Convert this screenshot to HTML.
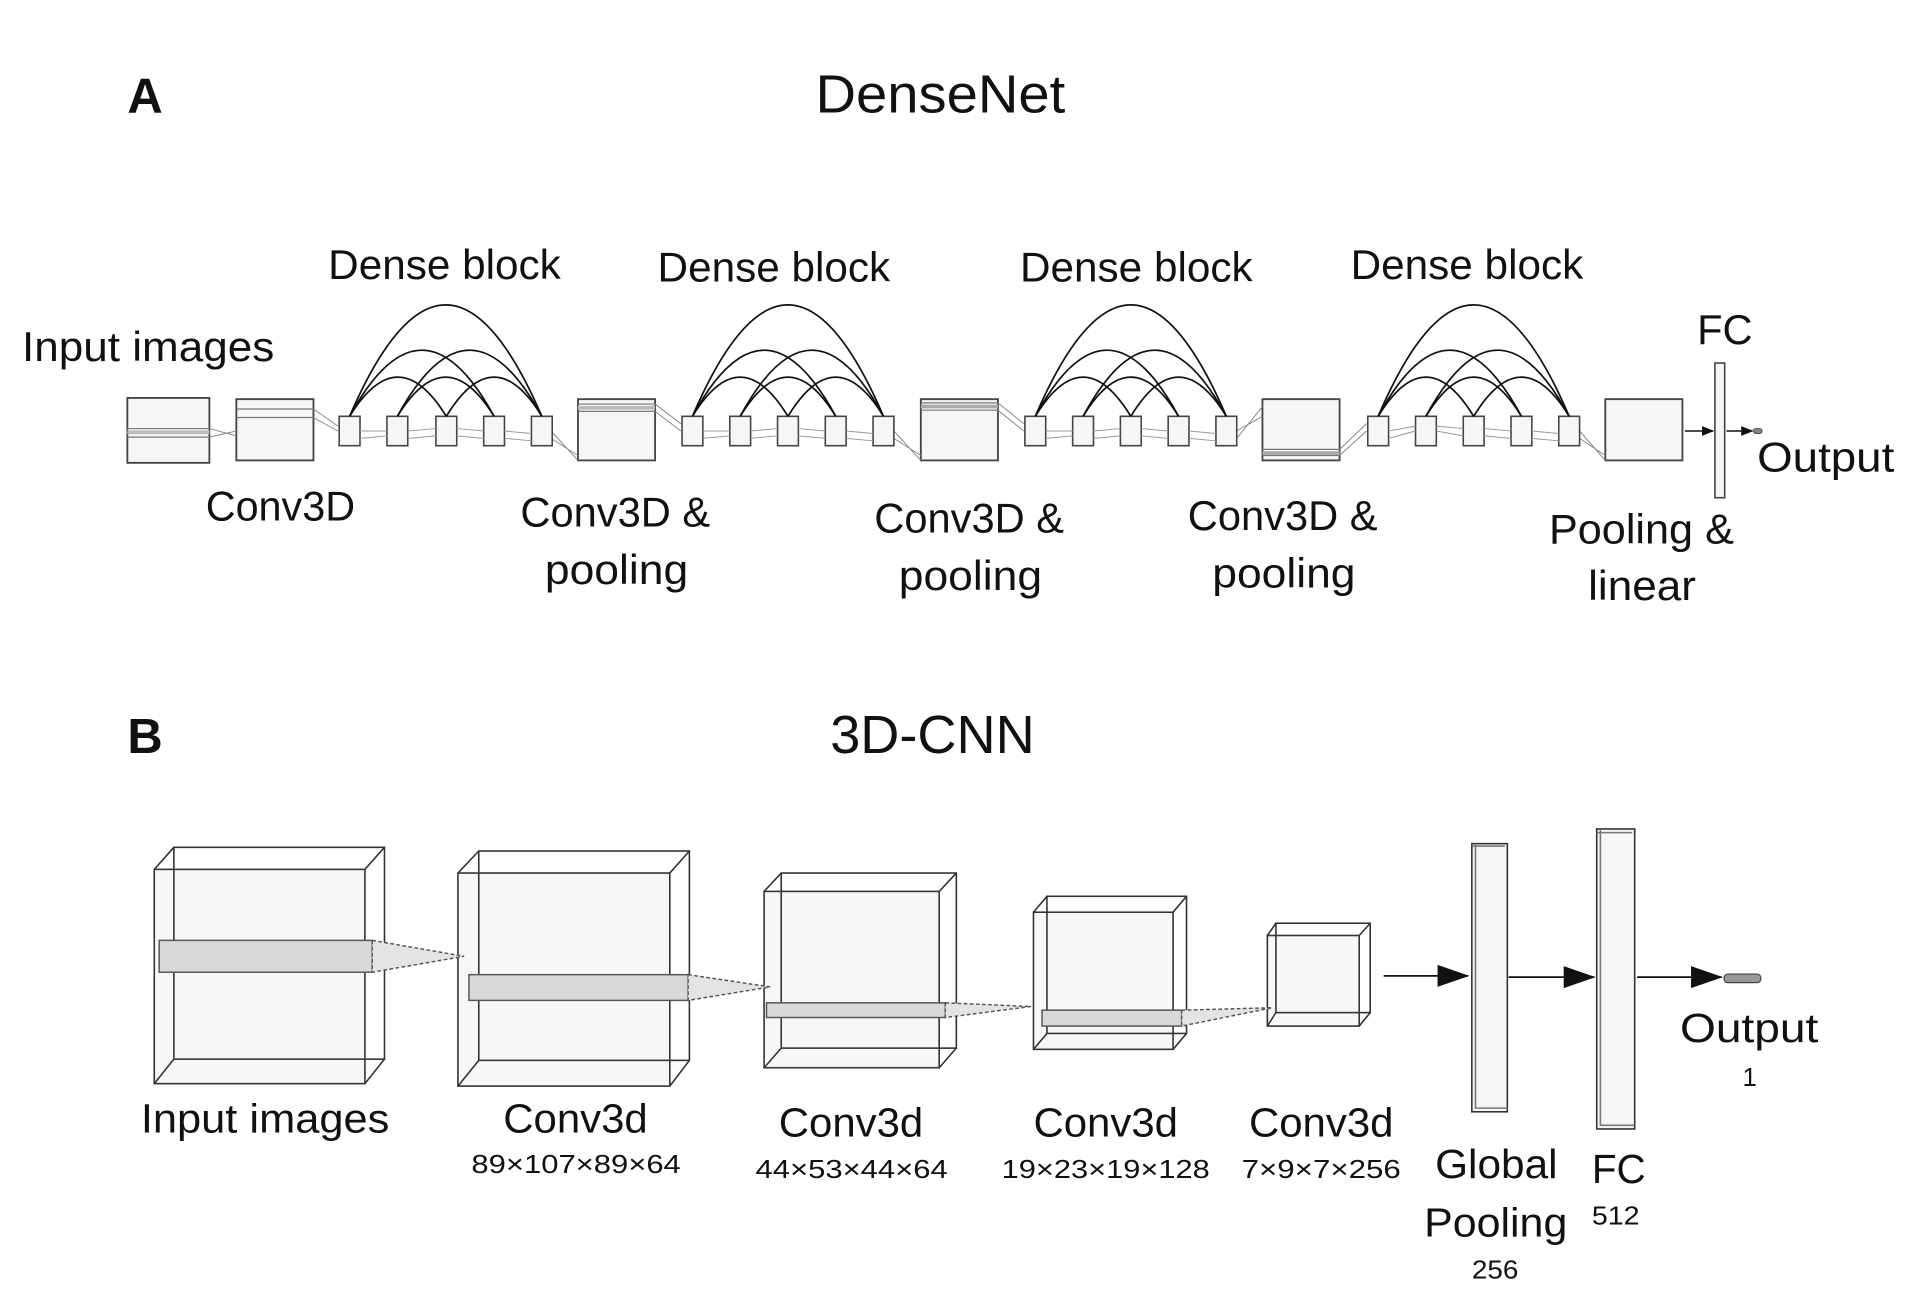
<!DOCTYPE html>
<html><head><meta charset="utf-8"><style>
html,body{margin:0;padding:0;background:#fff;}
svg{display:block;}
text{font-family:"Liberation Sans",sans-serif;fill:#111;}
</style></head><body>
<svg width="1920" height="1312" viewBox="0 0 1568 1071.5" preserveAspectRatio="none" xmlns="http://www.w3.org/2000/svg">
<defs>
<marker id="ah" markerWidth="10" markerHeight="8" refX="9" refY="4" orient="auto" markerUnits="userSpaceOnUse"><path d="M0,0 L10,4 L0,8 z" fill="#111"/></marker>
<marker id="ahb" markerWidth="26" markerHeight="18" refX="25" refY="9" orient="auto" markerUnits="userSpaceOnUse"><path d="M0,0 L26,9 L0,18 z" fill="#111"/></marker>
</defs>

<text x="104" y="92" font-size="40" font-weight="bold">A</text>
<text x="666" y="92" font-size="44" textLength="204" lengthAdjust="spacingAndGlyphs">DenseNet</text>
<text x="104" y="615" font-size="40" font-weight="bold">B</text>
<text x="678" y="615" font-size="44" textLength="167" lengthAdjust="spacingAndGlyphs">3D-CNN</text>

<g font-size="34">
<text x="268" y="228" textLength="190" lengthAdjust="spacingAndGlyphs">Dense block</text>
<text x="537" y="230" textLength="190" lengthAdjust="spacingAndGlyphs">Dense block</text>
<text x="833" y="230" textLength="190" lengthAdjust="spacingAndGlyphs">Dense block</text>
<text x="1103" y="228" textLength="190" lengthAdjust="spacingAndGlyphs">Dense block</text>
<text x="18" y="295" textLength="206" lengthAdjust="spacingAndGlyphs">Input images</text>
<text x="168" y="425" textLength="122" lengthAdjust="spacingAndGlyphs">Conv3D</text>
<text x="425" y="430" textLength="155" lengthAdjust="spacingAndGlyphs">Conv3D &amp;</text>
<text x="445" y="477" textLength="117" lengthAdjust="spacingAndGlyphs">pooling</text>
<text x="714" y="435" textLength="155" lengthAdjust="spacingAndGlyphs">Conv3D &amp;</text>
<text x="734" y="482" textLength="117" lengthAdjust="spacingAndGlyphs">pooling</text>
<text x="970" y="433" textLength="155" lengthAdjust="spacingAndGlyphs">Conv3D &amp;</text>
<text x="990" y="480" textLength="117" lengthAdjust="spacingAndGlyphs">pooling</text>
<text x="1265" y="444" textLength="151" lengthAdjust="spacingAndGlyphs">Pooling &amp;</text>
<text x="1297" y="490" textLength="88" lengthAdjust="spacingAndGlyphs">linear</text>
<text x="1386" y="281">FC</text>
<text x="1435" y="385" textLength="112" lengthAdjust="spacingAndGlyphs">Output</text>
</g>

<g stroke="#444" stroke-width="1.5" fill="#f6f6f6">
<rect x="104" y="325" width="67" height="53"/>
<rect x="193" y="326" width="63" height="50"/>
<rect x="472" y="326" width="63" height="50"/>
<rect x="752" y="326" width="63" height="50"/>
<rect x="1031" y="326" width="63" height="50"/>
<rect x="1311" y="326" width="63" height="50"/>
</g>
<g stroke="#777" stroke-width="1">
<line x1="104" y1="350" x2="171" y2="350"/><line x1="104" y1="357" x2="171" y2="357"/><line x1="104" y1="353" x2="171" y2="353" stroke="#bbb" stroke-width="3"/>
<line x1="193" y1="334" x2="256" y2="334"/><line x1="193" y1="341" x2="256" y2="341"/>
<line x1="472" y1="330" x2="535" y2="330"/><line x1="472" y1="336" x2="535" y2="336"/><line x1="472" y1="333" x2="535" y2="333" stroke="#bbb" stroke-width="3"/>
<line x1="752" y1="329" x2="815" y2="329"/><line x1="752" y1="335" x2="815" y2="335"/><line x1="752" y1="332" x2="815" y2="332" stroke="#aaa" stroke-width="3"/>
<line x1="1031" y1="367" x2="1094" y2="367"/><line x1="1031" y1="372" x2="1094" y2="372"/><line x1="1031" y1="370" x2="1094" y2="370" stroke="#aaa" stroke-width="3"/>
</g>
<g stroke="#888" stroke-width="0.8" fill="none">
<path d="M171,350 L193,356 M171,357 L193,352"/>
<path d="M256,334 L276,348 M256,341 L276,352"/>
<path d="M450,352 L472,376 M450,358 L472,372"/>
<path d="M535,330 L556,346 M535,336 L556,352"/>
<path d="M730,352 L752,376 M730,358 L752,372"/>
<path d="M815,329 L836,346 M815,335 L836,352"/>
<path d="M1010,352 L1031,340 M1010,358 L1031,332"/>
<path d="M1094,367 L1116,346 M1094,372 L1116,352"/>
<path d="M1290,352 L1311,376 M1290,358 L1311,372"/>
</g>
<g stroke="#444" stroke-width="1.3" fill="#f6f6f6">
<rect x="277" y="340" width="17" height="24"/><rect x="316" y="340" width="17" height="24"/><rect x="356" y="340" width="17" height="24"/><rect x="395" y="340" width="17" height="24"/><rect x="434" y="340" width="17" height="24"/>
<rect x="557" y="340" width="17" height="24"/><rect x="596" y="340" width="17" height="24"/><rect x="635" y="340" width="17" height="24"/><rect x="674" y="340" width="17" height="24"/><rect x="713" y="340" width="17" height="24"/>
<rect x="837" y="340" width="17" height="24"/><rect x="876" y="340" width="17" height="24"/><rect x="915" y="340" width="17" height="24"/><rect x="954" y="340" width="17" height="24"/><rect x="993" y="340" width="17" height="24"/>
<rect x="1117" y="340" width="17" height="24"/><rect x="1156" y="340" width="17" height="24"/><rect x="1195" y="340" width="17" height="24"/><rect x="1234" y="340" width="17" height="24"/><rect x="1273" y="340" width="17" height="24"/>
</g>
<g stroke="#999" stroke-width="0.8">
<path d="M294,352 L316,352 M294,358 L316,356 M333,352 L356,350 M333,358 L356,356 M373,350 L395,352 M373,356 L395,358 M412,352 L434,354 M412,358 L434,360"/>
<path d="M574,352 L596,352 M574,358 L596,356 M613,352 L635,350 M613,358 L635,356 M652,350 L674,352 M652,356 L674,358 M691,352 L713,354 M691,358 L713,360"/>
<path d="M854,352 L876,352 M854,358 L876,356 M893,352 L915,350 M893,358 L915,356 M932,350 L954,352 M932,356 L954,358 M971,352 L993,354 M971,358 L993,360"/>
<path d="M1134,352 L1156,348 M1134,358 L1156,352 M1173,348 L1195,350 M1173,352 L1195,356 M1212,350 L1234,352 M1212,356 L1234,358 M1251,352 L1273,354 M1251,358 L1273,360"/>
</g>
<g stroke="#111" stroke-width="1.4" fill="none">
<path d="M285.5,340 Q325,276 364.5,340 M324.5,340 Q364,276 403.5,340 M364.5,340 Q403.5,276 442.5,340"/>
<path d="M285.5,340 Q344.5,232 403.5,340 M324.5,340 Q383.5,232 442.5,340"/>
<path d="M285.5,340 Q364,158 442.5,340"/>
<path d="M565.5,340 Q604.5,276 643.5,340 M604.5,340 Q643.5,276 682.5,340 M643.5,340 Q682.5,276 721.5,340"/>
<path d="M565.5,340 Q624,232 682.5,340 M604.5,340 Q663,232 721.5,340"/>
<path d="M565.5,340 Q643.5,158 721.5,340"/>
<path d="M845.5,340 Q884.5,276 923.5,340 M884.5,340 Q923.5,276 962.5,340 M923.5,340 Q962.5,276 1001.5,340"/>
<path d="M845.5,340 Q904,232 962.5,340 M884.5,340 Q943,232 1001.5,340"/>
<path d="M845.5,340 Q923.5,158 1001.5,340"/>
<path d="M1125.5,340 Q1164.5,276 1203.5,340 M1164.5,340 Q1203.5,276 1242.5,340 M1203.5,340 Q1242.5,276 1281.5,340"/>
<path d="M1125.5,340 Q1184,232 1242.5,340 M1164.5,340 Q1223,232 1281.5,340"/>
<path d="M1125.5,340 Q1203.5,158 1281.5,340"/>
</g>
<rect x="1400.5" y="296.5" width="8" height="110" fill="#f6f6f6" stroke="#444" stroke-width="1.3"/>
<line x1="1376" y1="352" x2="1399" y2="352" stroke="#111" stroke-width="1.2" marker-end="url(#ah)"/>
<line x1="1410" y1="352" x2="1431" y2="352" stroke="#111" stroke-width="1.2" marker-end="url(#ah)"/>
<rect x="1432" y="350" width="7" height="4" rx="2" fill="#888" stroke="#444" stroke-width="0.8"/>

<g stroke="#333" stroke-width="1.3" fill="none">
<rect x="126" y="710" width="172" height="175" fill="#f7f7f7"/>
<rect x="142" y="692" width="172" height="173"/>
<path d="M126,710 L142,692 M298,710 L314,692 M126,885 L142,865 M298,885 L314,865"/>
<rect x="374" y="713" width="173" height="174" fill="#f7f7f7"/>
<rect x="391" y="695" width="172" height="171"/>
<path d="M374,713 L391,695 M547,713 L563,695 M374,887 L391,866 M547,887 L563,866"/>
<rect x="624" y="728" width="143" height="144" fill="#f7f7f7"/>
<rect x="638" y="713" width="143" height="143"/>
<path d="M624,728 L638,713 M767,728 L781,713 M624,872 L638,856 M767,872 L781,856"/>
<rect x="844" y="745" width="114" height="112" fill="#f7f7f7"/>
<rect x="855" y="732" width="114" height="112"/>
<path d="M844,745 L855,732 M958,745 L969,732 M844,857 L855,844 M958,857 L969,844"/>
<rect x="1035" y="764" width="75" height="74" fill="#f7f7f7"/>
<rect x="1042" y="754" width="77" height="73"/>
<path d="M1035,764 L1042,754 M1110,764 L1119,754 M1035,838 L1042,827 M1110,838 L1119,827"/>
</g>
<g stroke="#555" stroke-width="1.2">
<rect x="130" y="768" width="174" height="26" fill="#d9d9d9"/>
<path d="M304,768 L379,781 L304,794 z" fill="#e4e4e4" stroke-dasharray="3,2"/>
<rect x="383" y="796" width="179" height="21" fill="#d9d9d9"/>
<path d="M562,796 L629,806 L562,817 z" fill="#e4e4e4" stroke-dasharray="3,2"/>
<rect x="626" y="819" width="146" height="12" fill="#d9d9d9"/>
<path d="M772,819 L842,822 L772,831 z" fill="#e4e4e4" stroke-dasharray="3,2"/>
<rect x="851" y="825" width="114" height="13" fill="#d9d9d9"/>
<path d="M965,825 L1039,823 L965,838 z" fill="#e4e4e4" stroke-dasharray="3,2"/>
</g>
<g stroke="#333" stroke-width="1.3" fill="#f6f6f6">
<rect x="1202" y="689" width="29" height="219"/>
<path d="M1205,689 L1205,905 L1231,905 M1202,691 L1229,691" fill="none" stroke="#777"/>
<rect x="1304" y="677" width="31" height="245"/>
<path d="M1307,677 L1307,919 L1335,919 M1304,680 L1333,680" fill="none" stroke="#777"/>
</g>
<g stroke="#111" stroke-width="1.5">
<line x1="1130" y1="797" x2="1199" y2="797" marker-end="url(#ahb)"/>
<line x1="1232" y1="798" x2="1302" y2="798" marker-end="url(#ahb)"/>
<line x1="1337" y1="798" x2="1406" y2="798" marker-end="url(#ahb)"/>
</g>
<rect x="1408" y="795.5" width="30" height="7" rx="3" fill="#999" stroke="#444" stroke-width="1"/>

<g font-size="33">
<text x="115" y="925" textLength="203" lengthAdjust="spacingAndGlyphs">Input images</text>
<text x="411" y="925" textLength="118" lengthAdjust="spacingAndGlyphs">Conv3d</text>
<text x="636" y="928" textLength="118" lengthAdjust="spacingAndGlyphs">Conv3d</text>
<text x="844" y="928" textLength="118" lengthAdjust="spacingAndGlyphs">Conv3d</text>
<text x="1020" y="928" textLength="118" lengthAdjust="spacingAndGlyphs">Conv3d</text>
<text x="1172" y="962" textLength="100" lengthAdjust="spacingAndGlyphs">Global</text>
<text x="1163" y="1010" textLength="117" lengthAdjust="spacingAndGlyphs">Pooling</text>
<text x="1300" y="966">FC</text>
<text x="1372" y="851" textLength="113" lengthAdjust="spacingAndGlyphs">Output</text>
</g>
<g font-size="21">
<text x="385" y="958" textLength="171" lengthAdjust="spacingAndGlyphs">89×107×89×64</text>
<text x="617" y="962" textLength="157" lengthAdjust="spacingAndGlyphs">44×53×44×64</text>
<text x="818" y="962" textLength="170" lengthAdjust="spacingAndGlyphs">19×23×19×128</text>
<text x="1014" y="962" textLength="130" lengthAdjust="spacingAndGlyphs">7×9×7×256</text>
<text x="1202" y="1044" textLength="38" lengthAdjust="spacingAndGlyphs">256</text>
<text x="1300" y="1000" textLength="39" lengthAdjust="spacingAndGlyphs">512</text>
<text x="1423" y="887">1</text>
</g>
</svg>
</body></html>
